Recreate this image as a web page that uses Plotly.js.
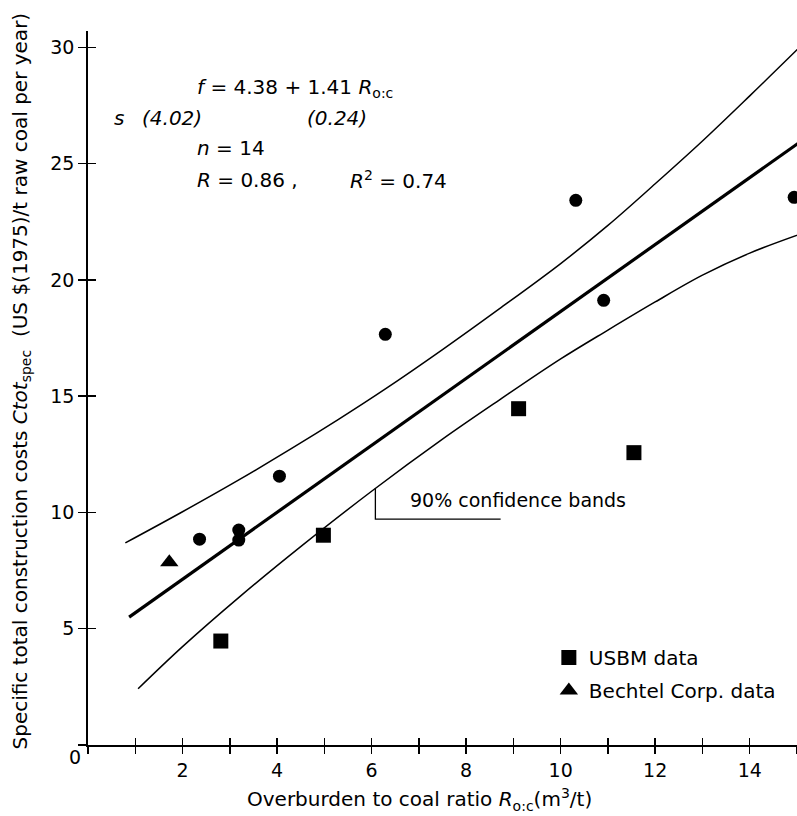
<!DOCTYPE html>
<html>
<head>
<meta charset="utf-8">
<script src="https://cdn.plot.ly/plotly-3.0.1.min.js"></script>
<style>html,body{margin:0;padding:0;background:#fff;}#chart{width:797px;height:816px;}</style>
</head>
<body>
<div id="chart"></div>
<script>
// ---- data ----
const otherX = [2.36, 3.19, 3.19, 4.05, 6.29, 10.32, 10.91, 14.94];
const otherY = [8.85, 9.24, 8.81, 11.56, 17.66, 23.42, 19.12, 23.55];
const usbmX = [2.81, 4.98, 9.11, 11.55];
const usbmY = [4.47, 9.02, 14.46, 12.57];
const bechtelX = [1.72, 13.79];
const bechtelY = [7.86, 31.0];
const fitX = [0.87, 15.1];
const fitY = [5.50, 25.98];
const upperX = [0.79, 2.0, 3.2, 4.3, 5.3, 6.3, 7.5, 8.7, 10.0, 11.0, 12.0, 13.0, 14.0, 15.1];
const upperY = [8.69, 10.03, 11.41, 12.74, 14.0, 15.32, 17.0, 18.75, 20.7, 22.34, 24.13, 25.97, 27.91, 30.09];
const lowerX = [1.06, 2.0, 3.2, 4.5, 6.0, 7.5, 8.7, 10.0, 11.0, 12.0, 13.0, 14.0, 15.1];
const lowerY = [2.42, 4.23, 6.36, 8.53, 10.91, 13.15, 14.83, 16.6, 17.84, 19.05, 20.2, 21.15, 21.99];
const leaderX = [6.08, 6.08, 8.73];
const leaderY = [11.04, 9.71, 9.71];
const xTickVals = [0, 1, 2, 3, 4, 5, 6, 7, 8, 9, 10, 11, 12, 13, 14, 15];
const xTickText = ['', '', '2', '', '4', '', '6', '', '8', '', '10', '', '12', '', '14', ''];
const yTickVals = [0, 5, 10, 15, 20, 25, 30];
const yTickText = ['', '5', '10', '15', '20', '25', '30'];

const FONT = 'DejaVu Sans, Verdana, sans-serif';
const XR = [0, 15.0];
const YR = [0, 30.7];

const traces = [
  {x: upperX, y: upperY, mode: 'lines', line: {color: '#000', width: 1.5, shape: 'spline', smoothing: 1}, showlegend: false, hoverinfo: 'skip'},
  {x: lowerX, y: lowerY, mode: 'lines', line: {color: '#000', width: 1.5, shape: 'spline', smoothing: 1}, showlegend: false, hoverinfo: 'skip'},
  {x: fitX, y: fitY, mode: 'lines', line: {color: '#000', width: 3.2}, showlegend: false},
  {x: leaderX, y: leaderY, mode: 'lines', line: {color: '#000', width: 1.3}, showlegend: false, hoverinfo: 'skip'},
  {x: otherX, y: otherY, mode: 'markers', marker: {symbol: 'circle', size: 13, color: '#000'}, showlegend: false, cliponaxis: false},
  {x: usbmX, y: usbmY, mode: 'markers', name: 'USBM data', legendgroup: 'a', marker: {symbol: 'square', size: 15, color: '#000'}, cliponaxis: false},
  {x: bechtelX, y: bechtelY, mode: 'markers', name: 'Bechtel Corp. data', legendgroup: 'b', marker: {symbol: 'triangle-up', size: 16, color: '#000'}, cliponaxis: false},
  {x: [], y: [], xaxis: 'x2', yaxis: 'y2', mode: 'markers', showlegend: false}
];

const axisCommon = {showgrid: false, zeroline: false, ticks: 'outside', ticklen: 8, tickwidth: 1.5, tickcolor: '#000',
  linecolor: '#000', linewidth: 1.8, showline: true, tickfont: {family: FONT, size: 19, color: '#000'}};

const ann = (o) => Object.assign({showarrow: false, yanchor: 'middle', font: {family: FONT, size: 20, color: '#000'}}, o);

const layout = {
  width: 797, height: 816,
  margin: {l: 88, r: 0, t: 31, b: 71},
  paper_bgcolor: '#fff', plot_bgcolor: '#fff',
  font: {family: FONT, color: '#000'},
  xaxis: Object.assign({}, axisCommon, {range: XR, tickmode: 'array', tickvals: xTickVals, ticktext: xTickText, ticklen: 7}),
  yaxis: Object.assign({}, axisCommon, {range: YR, tickmode: 'array', tickvals: yTickVals, ticktext: yTickText}),
  xaxis2: {overlaying: 'x', anchor: 'y2', side: 'bottom', range: XR, showgrid: false, zeroline: false, showline: false,
    tickmode: 'array', tickvals: xTickVals, ticks: 'inside', ticklen: 7, tickwidth: 1.5, tickcolor: '#000', showticklabels: false},
  yaxis2: {overlaying: 'y', anchor: 'x2', side: 'left', range: YR, showgrid: false, zeroline: false, showline: false,
    tickmode: 'array', tickvals: yTickVals, ticks: 'inside', ticklen: 8, tickwidth: 1.5, tickcolor: '#000', showticklabels: false},
  showlegend: true,
  legend: {x: 0.65, y: 0.15, xanchor: 'left', yanchor: 'top', bgcolor: 'rgba(0,0,0,0)', font: {family: FONT, size: 20, color: '#000'},
    traceorder: 'grouped', tracegroupgap: 4, itemwidth: 30},
  annotations: [
    ann({xref: 'x', yref: 'y', x: 2.26, y: 28.25, xanchor: 'left', text: '<i>f</i> = 4.38 + 1.41 <i>R</i><sub>o:c</sub>'}),
    ann({xref: 'x', yref: 'y', x: 0.51, y: 26.96, xanchor: 'left', text: '<i>s</i>'}),
    ann({xref: 'x', yref: 'y', x: 1.10, y: 26.96, xanchor: 'left', text: '<i>(4.02)</i>'}),
    ann({xref: 'x', yref: 'y', x: 4.6, y: 26.96, xanchor: 'left', text: '<i>(0.24)</i>'}),
    ann({xref: 'x', yref: 'y', x: 2.26, y: 25.67, xanchor: 'left', text: '<i>n</i> = 14'}),
    ann({xref: 'x', yref: 'y', x: 2.26, y: 24.29, xanchor: 'left', text: '<i>R</i> = 0.86 ,'}),
    ann({xref: 'x', yref: 'y', x: 5.5, y: 24.29, xanchor: 'left', text: '<i>R</i><sup>2</sup> = 0.74'}),
    ann({xref: 'x', yref: 'y', x: 6.77, y: 10.53, xanchor: 'left', text: '90% confidence bands', font: {family: FONT, size: 19, color: '#000'}}),
    ann({xref: 'paper', yref: 'paper', x: -0.018, y: -0.017, xanchor: 'center', text: '0', font: {family: FONT, size: 19, color: '#000'}}),
    ann({xref: 'paper', yref: 'paper', x: 0.468, y: -0.077, xanchor: 'center', text: 'Overburden to coal ratio <i>R</i><sub>o:c</sub>(m<sup>3</sup>/t)', font: {family: FONT, size: 20, color: '#000'}}),
    ann({xref: 'paper', yref: 'paper', x: -0.095, y: 0.51, xanchor: 'center', textangle: -90,
      text: 'Specific total construction costs <i>Ctot</i><sub>spec</sub>  (US $(1975)/t raw coal per year)', font: {family: FONT, size: 20, color: '#000'}})
  ]
};

Plotly.newPlot('chart', traces, layout, {staticPlot: true, displayModeBar: false});
</script>
</body>
</html>
